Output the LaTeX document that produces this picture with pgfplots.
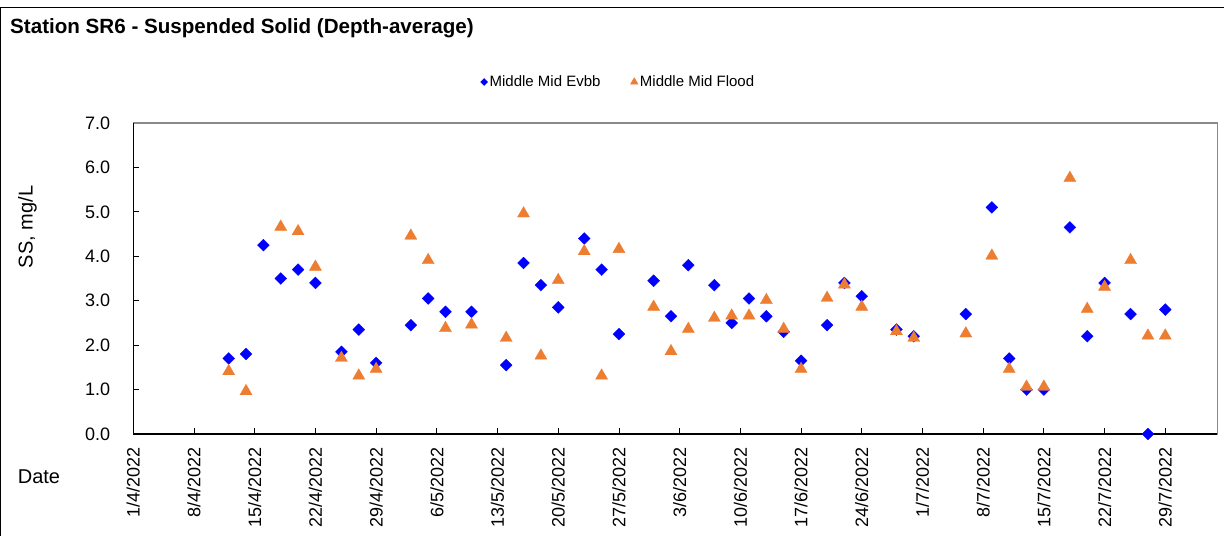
\documentclass[border=0pt]{standalone}
\usepackage{pgfplots}
\usepackage{pgfplotstable}
\pgfplotsset{compat=1.18}
\usepackage{fontspec}
\setmainfont{Liberation Sans}
\definecolor{evbb}{RGB}{0,0,255}
\definecolor{flood}{RGB}{237,125,49}
\definecolor{plotframe}{RGB}{137,137,137}

% day = days after 1/4/2022
\pgfplotstableread{
day evbb flood
11  1.70 1.45
13  1.80 1.00
15  4.25 nan
17  3.50 4.70
19  3.70 4.60
21  3.40 3.80
24  1.85 1.75
26  2.35 1.35
28  1.60 1.50
32  2.45 4.50
34  3.05 3.95
36  2.75 2.42
39  2.75 2.50
43  1.55 2.20
45  3.85 5.00
47  3.35 1.80
49  2.85 3.50
52  4.40 4.15
54  3.70 1.35
56  2.25 4.20
60  3.45 2.90
62  2.65 1.90
64  3.80 2.40
67  3.35 2.65
69  2.50 2.70
71  3.05 2.70
73  2.65 3.05
75  2.30 2.40
77  1.65 1.50
80  2.45 3.10
82  3.40 3.40
84  3.10 2.90
88  2.35 2.35
90  2.20 2.20
96  2.70 2.30
99  5.10 4.05
101 1.70 1.50
103 1.00 1.10
105 1.00 1.10
108 4.65 5.80
110 2.20 2.85
112 3.40 3.35
115 2.70 3.95
117 0.00 2.25
119 2.80 2.25
}\sstable

\begin{document}
\begin{tikzpicture}
\useasboundingbox (-133.3bp,-102bp) rectangle (1090.7bp,434bp);
\draw[line width=1bp] (-132.3bp,-102bp) -- (-132.3bp,426bp) -- (1090.7bp,426bp);
\node[anchor=base west, inner sep=0pt, font=\bfseries\fontsize{20.6bp}{24bp}\selectfont]
  at (-123.3bp,400.7bp) {Station SR6 - Suspended Solid (Depth-average)};
\begin{axis}[
    at={(0,0)}, anchor=south west,
    scale only axis, width=1084bp, height=311bp,
    xmin=0, xmax=125, ymin=0, ymax=7,
    clip=false,
    axis line style={draw=plotframe, line width=1.3bp},
    tick align=inside, tick pos=left,
    major tick length=6bp,
    tick style={black, line width=0.8bp},
    xtick={0,7,...,119},
    xticklabels={1/4/2022,8/4/2022,15/4/2022,22/4/2022,29/4/2022,6/5/2022,13/5/2022,20/5/2022,27/5/2022,3/6/2022,10/6/2022,17/6/2022,24/6/2022,1/7/2022,8/7/2022,15/7/2022,22/7/2022,29/7/2022},
    ytick={0,1,...,7},
    /pgf/number format/assume math mode=true,
    ticklabel style={font=\fontsize{18bp}{21bp}\selectfont},
    yticklabel style={anchor=east, inner sep=0pt, /pgf/number format/.cd, fixed, fixed zerofill, precision=1},
    xticklabel style={rotate=90, anchor=east, inner sep=0pt},
    xticklabel shift=13bp,
    yticklabel shift=23bp,
    ylabel={SS, mg/L},
    ylabel style={font=\fontsize{20bp}{23bp}\selectfont, at={(axis description cs:-0.0976,0.666)}, anchor=center},
    xlabel={Date},
    xlabel style={font=\fontsize{20bp}{23bp}\selectfont, at={(axis description cs:-0.087,-0.137)}, anchor=center},
    legend style={draw=none, fill=none, font=\fontsize{15bp}{17bp}\selectfont,
        at={(0.4475,1.132)}, anchor=center, legend columns=2,
        /tikz/every even column/.append style={column sep=28bp}},
]
\addplot[only marks, mark=square*, mark size=4.2bp,
    mark options={rotate=45, fill=evbb, draw=evbb, line width=0.3bp},
    legend image code/.code={\draw[only marks, mark=square*, mark size=2.5bp, mark options={rotate=45, fill=evbb, draw=evbb}] plot coordinates {(0bp,0bp)};}]
    table[x=day, y=evbb] {\sstable};
\addlegendentry{Middle Mid Evbb}
\addplot[only marks, mark=triangle*, mark size=7bp,
    mark options={fill=flood, draw=flood, line width=0.3bp, yshift=-1.7bp},
    legend image code/.code={\draw[only marks, mark=triangle*, mark size=4.3bp, mark options={fill=flood, draw=flood}] plot coordinates {(0bp,0bp)};}]
    table[x=day, y=flood] {\sstable};
\addlegendentry{Middle Mid Flood}
\draw[black, line width=1.2bp] (rel axis cs:0,1) -- (rel axis cs:0,0) -- (rel axis cs:1,0);
\end{axis}
\end{tikzpicture}
\end{document}
